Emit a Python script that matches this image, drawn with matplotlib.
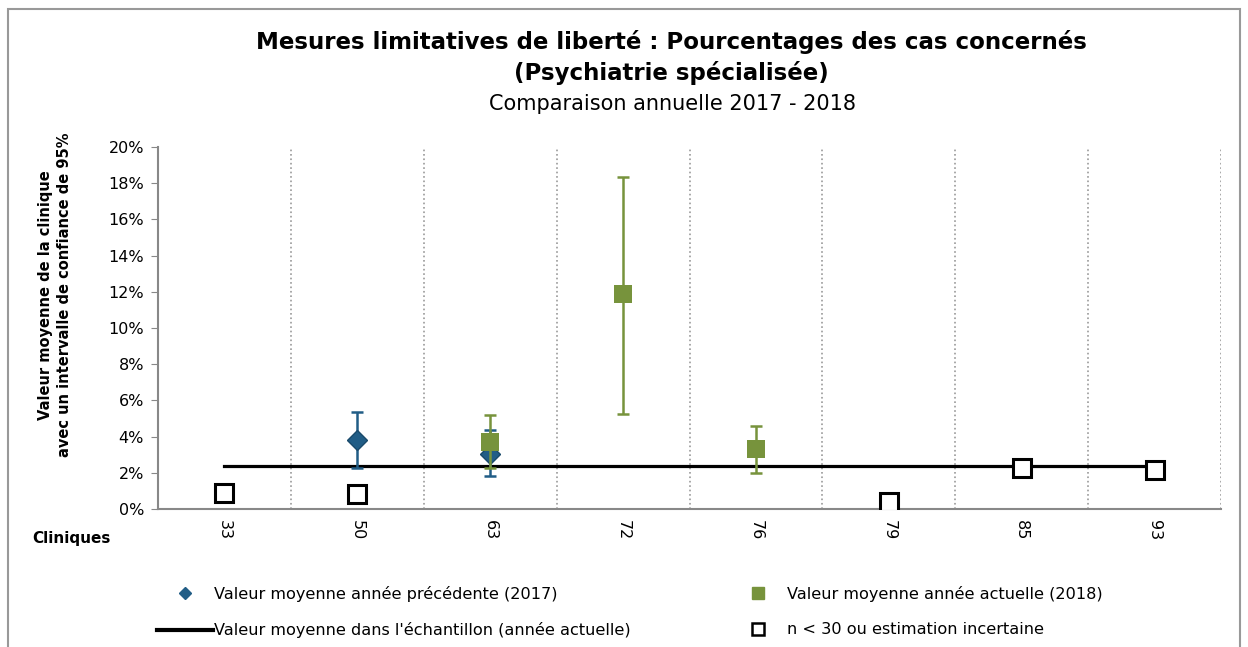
import numpy as np
import matplotlib.pyplot as plt
from matplotlib.lines import Line2D
from matplotlib.patches import Rectangle
from matplotlib.ticker import FuncFormatter, MultipleLocator

plt.rcParams['font.family'] = ['DejaVu Sans']

# data (percent)
cliniques = ['33', '50', '63', '72', '76', '79', '85', '93']
val_2017 = [np.nan, 3.81, 3.02, np.nan, np.nan, np.nan, np.nan, np.nan]
low_2017 = [np.nan, 2.25, 1.82, np.nan, np.nan, np.nan, np.nan, np.nan]
high_2017 = [np.nan, 5.38, 4.36, np.nan, np.nan, np.nan, np.nan, np.nan]
val_2018 = [np.nan, np.nan, 3.72, 11.86, 3.30, np.nan, np.nan, np.nan]
low_2018 = [np.nan, np.nan, 2.28, 5.27, 2.00, np.nan, np.nan, np.nan]
high_2018 = [np.nan, np.nan, 5.20, 18.36, 4.57, np.nan, np.nan, np.nan]
incertain_2018 = [0.90, 0.81, np.nan, np.nan, np.nan, 0.38, 2.27, 2.15]
moyenne_echantillon = 2.39

blue = '#215d86'
green = '#77933c'

x = np.arange(len(cliniques))
v17 = np.array(val_2017)
v18 = np.array(val_2018)
err17 = [v17 - np.array(low_2017), np.array(high_2017) - v17]
err18 = [v18 - np.array(low_2018), np.array(high_2018) - v18]

fig = plt.figure(figsize=(12.48, 6.47), dpi=100)
ax = fig.add_axes([0.1266, 0.2133, 0.8518, 0.5595])

ax.errorbar(x, v17, yerr=err17, fmt='none', ecolor=blue,
            elinewidth=1.8, capsize=4.3, capthick=1.8, zorder=3)
ax.plot(x, v17, 'D', color=blue, markersize=10, markeredgecolor='#1a4a6b', zorder=3)
ax.errorbar(x, v18, yerr=err18, fmt='none', ecolor=green,
            elinewidth=1.8, capsize=4.3, capthick=1.8, zorder=4)
ax.plot(x, v18, 's', color=green, markersize=13.5, markeredgewidth=0, zorder=4)
ax.plot(x, incertain_2018, 's', markersize=12.5, markerfacecolor='white',
        markeredgecolor='black', markeredgewidth=2.2, zorder=5)
ax.plot([x[0], x[-1]], [moyenne_echantillon] * 2, color='black', lw=2.3, zorder=2)

ax.set_xlim(-0.5, len(cliniques) - 0.5)
ax.set_ylim(0, 20)
ax.yaxis.set_major_locator(MultipleLocator(2))
ax.yaxis.set_major_formatter(FuncFormatter(lambda v, p: '%d%%' % v))
ax.set_xticks(x)
ax.set_xticklabels(cliniques, rotation=-90, fontsize=11.5)
ax.set_xticks(np.arange(-0.5, len(cliniques)), minor=True)
ax.tick_params(axis='x', which='both', length=0, pad=8)
ax.tick_params(axis='y', length=5, color='#888888', labelsize=11.5, pad=5)
ax.grid(which='minor', axis='x', linestyle=':', color='#999999', lw=1.2)
for s in ['top', 'right']:
    ax.spines[s].set_visible(False)
for s in ['left', 'bottom']:
    ax.spines[s].set_color('#888888')
    ax.spines[s].set_linewidth(1.5)

fig.text(0.538, 1 - 42 / 647, 'Mesures limitatives de liberté : Pourcentages des cas concernés',
         ha='center', va='center', fontsize=16.5, fontweight='bold')
fig.text(0.538, 1 - 73 / 647, '(Psychiatrie spécialisée)',
         ha='center', va='center', fontsize=16.5, fontweight='bold')
fig.text(0.539, 1 - 104 / 647, 'Comparaison annuelle 2017 - 2018',
         ha='center', va='center', fontsize=15)
fig.text(55 / 1248, 1 - 295 / 647,
         'Valeur moyenne de la clinique\navec un intervalle de confiance de 95%',
         ha='center', va='center', rotation=90, fontsize=10.5, fontweight='bold',
         linespacing=1.4)
fig.text(32 / 1248, 1 - 538 / 647, 'Cliniques', ha='left', va='center',
         fontsize=11, fontweight='bold')

handles = [
    Line2D([], [], marker='D', color=blue, ls='none', markersize=6),
    Line2D([], [], color='black', lw=3),
    Line2D([], [], marker='s', color=green, ls='none', markersize=8),
    Line2D([], [], marker='s', ls='none', markersize=8, markerfacecolor='white',
           markeredgecolor='black', markeredgewidth=1.8),
]
labels = ['Valeur moyenne année précédente (2017)',
          "Valeur moyenne dans l'échantillon (année actuelle)",
          'Valeur moyenne année actuelle (2018)',
          'n < 30 ou estimation incertaine']
fig.legend(handles, labels, ncol=2, loc='center left',
           bbox_to_anchor=(142 / 1248, 1 - 612 / 647), frameon=False,
           fontsize=11.6, handlelength=3.5, handletextpad=0.05,
           columnspacing=6.2, labelspacing=1.3)

fig.patches.append(Rectangle((8 / 1248, -0.1), 1232 / 1248, 1.1 - 9 / 647,
                             transform=fig.transFigure, fill=False,
                             edgecolor='#999999', lw=1.5))

fig.savefig('out.png', dpi=100)
